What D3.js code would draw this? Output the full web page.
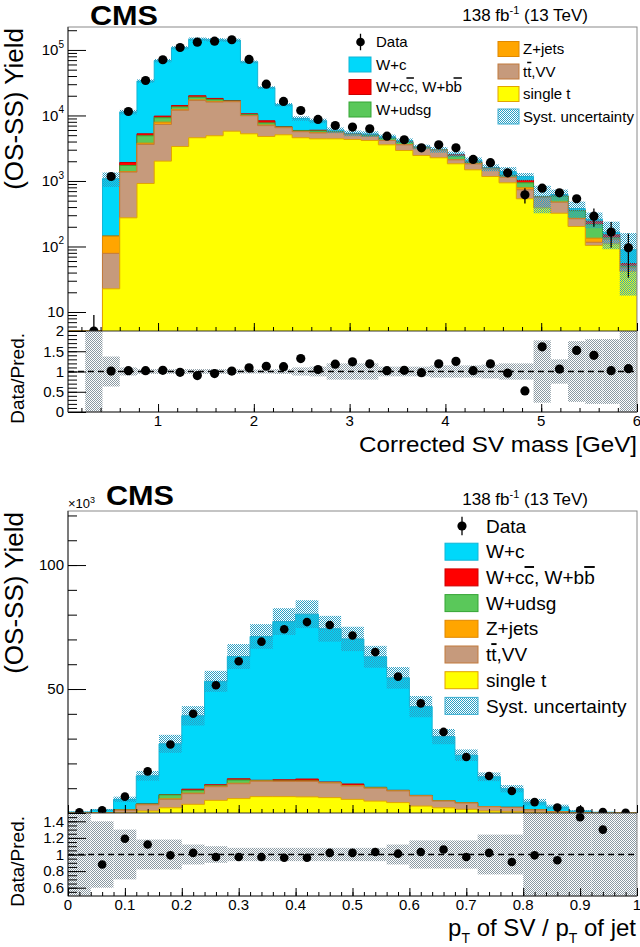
<!DOCTYPE html>
<html><head><meta charset="utf-8">
<script src="https://cdn.jsdelivr.net/npm/d3@7/dist/d3.min.js"></script>
<style>
html,body{margin:0;padding:0;background:#fff;}
svg text{font-family:"Liberation Sans",Arial,Helvetica,sans-serif;fill:#000;}
</style></head><body>
<svg id="chart" width="640" height="947"></svg>
<script>
// ---------------- DATA: corrected SV mass (top) ----------------
const massBinWidth = 0.18;
const massBinLow = d3.range(33).map(i => +(0.06 + i * massBinWidth).toFixed(2));
const massSingleT = [0,0,22.6,274,916,2010,3360,4570,4900,5760,5250,4780,5070,4570,4400,4400,4300,4150,3560,2920,2450,2260,1830,1480,1170,937,535,389,322,202,104,110,42];
const massTTVV    = [0,0,56,1091,2694,5290,8640,12330,11100,10440,4650,2220,1430,1080,1000,1100,750,640,590,640,700,690,270,340,360,203,200,170,152,63,12,18,5];
const massZjets   = [0,0,65,25,170,600,400,400,400,100,100,150,50,50,50,30,20,10,20,20,20,10,20,10,10,10,52,5,2,5,18,2,1];
const massWudsg   = [0,0,0,336,1120,1330,1100,1700,1000,300,300,550,100,150,350,120,80,150,280,320,50,20,280,70,20,50,150,5,110,80,83,5,2];
const massWccbb   = [0,0,0,189,350,540,700,1000,800,200,300,600,50,50,150,50,50,50,50,50,60,10,120,50,10,20,83,5,4,5,26,16,5];
const massWc      = [0,0,936,9355,28250,58930,93800,126000,124800,124200,55100,18300,7900,3100,2330,260,150,220,230,180,30,10,50,130,30,170,150,10,30,25,17,14,34];
const massData    = [null,3,1170,11500,34200,70800,109000,131500,136000,143000,71600,30000,16400,11900,8690,7030,6640,6270,4830,4260,3210,3560,3210,2130,1900,1330,615,776,660,535,290,166,95.5];
const massDataErr = [0,6,40,110,190,270,330,370,370,380,270,175,130,110,95,85,80,80,70,65,60,60,60,50,50,45,160,60,60,70,90,70,62];
const massSystRel = [0,0,0.25,0.08,0.06,0.06,0.06,0.06,0.06,0.06,0.05,0.05,0.06,0.08,0.08,0.1,0.1,0.1,0.08,0.08,0.08,0.1,0.1,0.1,0.12,0.17,0.13,0.45,0.19,0.28,0.27,0.45,0.8];
const massRatio   = [null,null,1.01,1.02,1.02,1.03,0.98,0.90,0.95,1.01,1.09,1.13,1.12,1.32,1.05,1.18,1.24,1.19,1.02,1.03,0.97,1.19,1.25,1.02,1.19,0.96,0.52,1.61,1.06,1.52,1.40,1.02,1.07];
const massRatioBand = [0,1.2,0.37,0.1,0.06,0.06,0.06,0.06,0.06,0.06,0.05,0.05,0.06,0.1,0.12,0.2,0.2,0.2,0.12,0.12,0.12,0.15,0.15,0.15,0.17,0.2,0.2,0.77,0.3,0.75,0.8,0.8,1.0];
const massXLabels = [1,2,3,4,5,6];
const massYLabels = [[10,"10",""],[100,"10","2"],[1000,"10","3"],[10000,"10","4"],[100000,"10","5"]];
const massRatioLabels = [[0,"0"],[0.5,"0.5"],[1,"1"],[1.5,"1.5"],[2,"2"]];

// ---------------- DATA: pT(SV)/pT(jet) (bottom) ----------------
const ptBinWidth = 0.04;
const ptBinLow = d3.range(25).map(i => +(i * ptBinWidth).toFixed(2));
const ptSingleT = [0,0.05,0.1,0.8,2.1,3.5,5.1,5.8,6.6,6.6,6.5,6.2,5.5,4.8,4.2,2.8,2.1,1.5,0.8,0.5,0.3,0.1,0.05,0.02,0.01];
const ptTTVV    = [0.05,0.1,1.0,2.5,3.4,4.3,5.5,6.0,6.2,6.1,6.2,5.9,5.4,5.2,4.7,4.1,2.7,2.5,1.7,1.7,0.9,0.4,0.15,0.05,0.02];
const ptZjets   = [0,0,0.05,0.1,0.2,0.2,0.2,0.2,0.1,0.1,0.1,0.1,0.1,0.05,0.05,0.05,0.05,0.05,0.03,0.03,0.02,0.01,0,0,0];
const ptWudsg   = [0,0,0.1,0.2,1.6,1.1,0.2,1.3,0.1,0.1,0.1,0.1,0.1,0.2,0.1,0.1,0.1,0.05,0.05,0.05,0.03,0.02,0.01,0,0];
const ptWccbb   = [0,0,0,0.05,0.1,0.5,0.4,0.5,0.2,0.5,0.8,0.2,0.6,0.1,0.1,0.05,0.05,0.05,0.02,0.02,0.02,0.01,0,0,0];
const ptWc      = [0.35,1.1,4.25,11.35,20.5,29.6,41.7,49.3,58.0,63.8,66.5,61.8,58.5,52.65,45.35,35.8,25.8,19.15,12.0,7.5,3.1,1.86,0.6,0.23,0.07];
const ptData    = [0.3,1.1,6.6,16.8,27.6,40.0,51.5,61.2,69.1,74.1,77.0,75.8,71.6,64.9,55.0,44.2,32.7,22.6,14.9,8.9,4.4,2.2,1.1,0.4,0.1];
const ptDataErr = [0.2,0.3,0.4,0.5,0.6,0.7,0.7,0.8,0.8,0.8,0.8,0.8,0.8,0.8,0.7,0.7,0.6,0.5,0.5,0.4,0.3,0.3,0.2,0.2,0.1];
const ptSystRel = [0.5,0.3,0.2,0.13,0.13,0.1,0.08,0.08,0.07,0.07,0.07,0.07,0.07,0.07,0.08,0.1,0.1,0.1,0.12,0.15,0.3,0.4,0.5,0.5,0.5];
const ptRatio   = [null,0.88,1.19,1.12,0.99,1.02,0.97,0.97,0.97,0.96,0.96,1.02,1.02,1.03,1.01,1.03,1.06,0.97,1.02,0.91,0.99,0.93,1.45,1.30,null];
const ptRatioBand = [0.6,0.4,0.3,0.18,0.18,0.12,0.1,0.08,0.08,0.08,0.08,0.08,0.08,0.08,0.12,0.17,0.17,0.17,0.24,0.24,0.6,0.6,0.6,0.6,0.6];
const ptXLabels = [[0,"0"],[0.1,"0.1"],[0.2,"0.2"],[0.3,"0.3"],[0.4,"0.4"],[0.5,"0.5"],[0.6,"0.6"],[0.7,"0.7"],[0.8,"0.8"],[0.9,"0.9"],[1,"1"]];
const ptYLabels = [[50,"50"],[100,"100"]];
const ptRatioLabels = [[0.6,"0.6"],[0.8,"0.8"],[1,"1"],[1.2,"1.2"],[1.4,"1.4"]];

// ---------------- legend / styles ----------------
const compFill = ["#ffff00","#c69a7c","#ffa500","#5ac85a","#ff0000","#00d8fa"];
const compLine = ["#e2a400","#c27a3c","#e08800","#35a535","#cc0000","#12b6d6"];
const legendParts = {
  data: [["Data"]],
  wc: [["W+c"]],
  wcc: [["W+c"],["c","over"],[", W+b"],["b","over"]],
  wudsg: [["W+udsg"]],
  z: [["Z+jets"]],
  tt: [["t"],["t","over"],[",VV"]],
  st: [["single t"]],
  syst: [["Syst. uncertainty"]]
};

const svg = d3.select("#chart");
const defs = svg.append("defs");
function makePattern(id, color) {
  const p = defs.append("pattern").attr("id", id).attr("width", 2).attr("height", 2).attr("patternUnits", "userSpaceOnUse");
  p.append("rect").attr("x", 0).attr("y", 0).attr("width", 1).attr("height", 1).attr("fill", color);
  p.append("rect").attr("x", 1).attr("y", 1).attr("width", 1).attr("height", 1).attr("fill", color);
}
makePattern("systMain", "#2a9fc4");
makePattern("systRatio", "#8a99a2");

function richText(sel, parts) {
  parts.forEach(p => {
    const t = sel.append("tspan").text(p[0]);
    if (p[1] === "over") t.style("text-decoration", "overline");
  });
}

function cumulative(comps) {
  const out = []; let acc = comps[0].map(() => 0);
  comps.forEach(c => { acc = acc.map((a, i) => a + c[i]); out.push(acc.slice()); });
  return out;
}

function panel(o) {
  const x = d3.scaleLinear().domain(o.xDomain).range([o.x0, o.x1]);
  const y = (o.log ? d3.scaleLog() : d3.scaleLinear()).domain(o.yDomain).range([o.mid, o.top]).clamp(true);
  const ys = v => y(Math.max(v, o.yDomain[0]));
  const yr = d3.scaleLinear().domain(o.rDomain).range([o.bot, o.mid]).clamp(true);
  const cM = o.id + "M", cR = o.id + "R";
  defs.append("clipPath").attr("id", cM).append("rect").attr("x", o.x0).attr("y", o.top).attr("width", o.x1 - o.x0).attr("height", o.mid - o.top);
  defs.append("clipPath").attr("id", cR).append("rect").attr("x", o.x0).attr("y", o.mid).attr("width", o.x1 - o.x0).attr("height", o.bot - o.mid);
  const hi = l => l + o.w;
  const cum = cumulative(o.comps);
  const total = cum[cum.length - 1];
  const gm = svg.append("g").attr("clip-path", `url(#${cM})`);
  for (let k = cum.length - 1; k >= 0; k--) {
    const pts = [[x(o.lows[0]), o.mid]];
    cum[k].forEach((v, i) => { pts.push([x(o.lows[i]), ys(v)]); pts.push([x(hi(o.lows[i])), ys(v)]); });
    pts.push([x(hi(o.lows[o.lows.length - 1])), o.mid]);
    gm.append("path").attr("d", d3.line()(pts) + "Z").attr("fill", compFill[k]);
    gm.append("path").attr("d", d3.line()(pts)).attr("fill", "none").attr("stroke", compLine[k]).attr("stroke-width", 1);
  }
  gm.selectAll(null).data(o.lows.map((l, i) => ({l, t: total[i], r: o.syst[i]})).filter(d => d.t > 0 && d.r > 0))
    .join("rect")
    .attr("x", d => x(d.l)).attr("width", d => x(hi(d.l)) - x(d.l))
    .attr("y", d => ys(d.t * (1 + d.r))).attr("height", d => ys(d.t * Math.max(1 - d.r, 1e-6)) - ys(d.t * (1 + d.r)))
    .attr("fill", "url(#systMain)");
  const dd = o.lows.map((l, i) => ({c: l + o.w / 2, v: o.data[i], e: o.err[i]})).filter(d => d.v != null);
  gm.selectAll(null).data(dd).join("line")
    .attr("x1", d => x(d.c)).attr("x2", d => x(d.c))
    .attr("y1", d => ys(d.v - d.e)).attr("y2", d => ys(d.v + d.e))
    .attr("stroke", "#000").attr("stroke-width", 1.3);
  gm.selectAll(null).data(dd).join("circle")
    .attr("cx", d => x(d.c)).attr("cy", d => ys(d.v)).attr("r", o.r).attr("fill", "#000");

  const gr = svg.append("g").attr("clip-path", `url(#${cR})`);
  gr.selectAll(null).data(o.lows.map((l, i) => ({l, r: o.rband[i]})).filter(d => d.r > 0)).join("rect")
    .attr("x", d => x(d.l)).attr("width", d => x(hi(d.l)) - x(d.l))
    .attr("y", d => yr(1 + d.r)).attr("height", d => yr(1 - d.r) - yr(1 + d.r))
    .attr("fill", "url(#systRatio)");
  gr.append("line").attr("x1", o.x0).attr("x2", o.x1).attr("y1", yr(1)).attr("y2", yr(1))
    .attr("stroke", "#000").attr("stroke-width", 1.5).attr("stroke-dasharray", "6,4");
  gr.selectAll(null).data(o.lows.map((l, i) => ({c: l + o.w / 2, v: o.ratio[i]})).filter(d => d.v != null)).join("circle")
    .attr("cx", d => x(d.c)).attr("cy", d => yr(d.v)).attr("r", o.r).attr("fill", "#000");

  svg.append("rect").attr("x", o.x0).attr("y", o.top).attr("width", o.x1 - o.x0).attr("height", o.bot - o.top)
    .attr("fill", "none").attr("stroke", "#8a8a8a").attr("stroke-width", 1);
  svg.append("line").attr("x1", o.x0).attr("x2", o.x1).attr("y1", o.mid).attr("y2", o.mid).attr("stroke", "#333");
  svg.append("line").attr("x1", o.x0).attr("x2", o.x1).attr("y1", o.bot).attr("y2", o.bot).attr("stroke", "#333");
  svg.append("line").attr("x1", o.x0).attr("x2", o.x0).attr("y1", o.top).attr("y2", o.bot).attr("stroke", "#333");

  const tick = (g) => { g.select(".domain").remove(); g.selectAll("line").attr("stroke", "#000"); };
  const ax = (gen, tx, ty) => svg.append("g").attr("transform", `translate(${tx},${ty})`).call(gen).call(tick);
  ax(d3.axisLeft(y).tickValues(o.yMajor).tickSize(-18).tickFormat(""), o.x0, 0);
  ax(d3.axisLeft(y).tickValues(o.yMinor).tickSize(-9).tickFormat(""), o.x0, 0);
  ax(d3.axisLeft(yr).tickValues(o.rMajor).tickSize(-18).tickFormat(""), o.x0, 0);
  ax(d3.axisLeft(yr).tickValues(o.rMinor).tickSize(-9).tickFormat(""), o.x0, 0);
  ax(d3.axisBottom(x).tickValues(o.xMajor).tickSize(-8).tickFormat(""), 0, o.mid);
  ax(d3.axisBottom(x).tickValues(o.xMinor).tickSize(-4).tickFormat(""), 0, o.mid);
  ax(d3.axisBottom(x).tickValues(o.xMajor).tickSize(-8).tickFormat(""), 0, o.bot);
  ax(d3.axisBottom(x).tickValues(o.xMinor).tickSize(-4).tickFormat(""), 0, o.bot);

  const lab = svg.append("g").attr("font-size", 15);
  o.yLabels.forEach(d => {
    const t = lab.append("text").attr("x", o.x0 - 4).attr("y", y(d[0])).attr("dy", "0.35em").attr("text-anchor", "end");
    t.append("tspan").text(d[1]);
    if (d[2]) t.append("tspan").attr("font-size", 10).attr("dy", "-0.75em").text(d[2]);
  });
  o.rLabels.forEach(d => lab.append("text").attr("x", o.x0 - 4).attr("y", yr(d[0])).attr("dy", "0.35em").attr("text-anchor", "end").text(d[1]));
  o.xLabels.forEach(d => lab.append("text").attr("x", x(d[0])).attr("y", o.bot + 14).attr("text-anchor", "middle").text(d[1]));
  return {x, y, yr};
}

// ---------------- TOP PANEL ----------------
const massMinor = [];
[1, 10, 100, 1000, 10000, 100000].forEach(d => d3.range(2, 10).forEach(m => { const v = m * d; if (v > 5.13 && v < 2.24e5) massMinor.push(v); }));
panel({
  id: "mass", x0: 68, x1: 637, top: 27, mid: 331, bot: 412,
  xDomain: [0.06, 6], yDomain: [5.13, 2.24e5], rDomain: [0, 2], log: true,
  lows: massBinLow, w: massBinWidth,
  comps: [massSingleT, massTTVV, massZjets, massWudsg, massWccbb, massWc],
  data: massData, err: massDataErr, syst: massSystRel, ratio: massRatio, rband: massRatioBand, r: 4.6,
  yMajor: massYLabels.map(d => d[0]), yMinor: massMinor,
  rMajor: massRatioLabels.map(d => d[0]), rMinor: d3.range(0.1, 2, 0.1),
  xMajor: massXLabels, xMinor: d3.range(0.2, 6, 0.2),
  yLabels: massYLabels, rLabels: massRatioLabels, xLabels: massXLabels.map(v => [v, String(v)])
});

// ---------------- BOTTOM PANEL ----------------
panel({
  id: "pt", x0: 68, x1: 637, top: 511, mid: 813, bot: 896,
  xDomain: [0, 1], yDomain: [0, 121.8], rDomain: [0.5, 1.5], log: false,
  lows: ptBinLow, w: ptBinWidth,
  comps: [ptSingleT, ptTTVV, ptZjets, ptWudsg, ptWccbb, ptWc],
  data: ptData, err: ptDataErr, syst: ptSystRel, ratio: ptRatio, rband: ptRatioBand, r: 4.3,
  yMajor: [0, 50, 100], yMinor: d3.range(10, 121, 10),
  rMajor: ptRatioLabels.map(d => d[0]), rMinor: d3.range(0.55, 1.5, 0.05),
  xMajor: ptXLabels.map(d => d[0]), xMinor: d3.range(0.02, 1, 0.02),
  yLabels: ptYLabels, rLabels: ptRatioLabels, xLabels: ptXLabels
});

// ---------------- titles ----------------
function cmsLabel(x, y) {
  svg.append("text").attr("x", x).attr("y", y).attr("font-size", 27).attr("font-weight", "bold")
    .attr("textLength", 68).attr("lengthAdjust", "spacingAndGlyphs").text("CMS");
}
function lumi(xEnd, y) {
  const t = svg.append("text").attr("x", xEnd).attr("y", y).attr("font-size", 17).attr("text-anchor", "end");
  t.append("tspan").text("138 fb");
  t.append("tspan").attr("font-size", 11).attr("dy", -7).text("-1");
  t.append("tspan").attr("dy", 7).text(" (13 TeV)");
}
cmsLabel(90, 25); lumi(588, 21);
cmsLabel(106, 505); lumi(588, 505);
const x3 = svg.append("text").attr("x", 68).attr("y", 508).attr("font-size", 13);
x3.append("tspan").text("\u00d710");
x3.append("tspan").attr("font-size", 9).attr("dy", -5).text("3");

function yTitle(x, yTop, txt, size) {
  svg.append("text").attr("transform", `translate(${x},${yTop}) rotate(-90)`).attr("text-anchor", "end")
    .attr("font-size", size).text(txt);
}
yTitle(23, 28, "(OS-SS) Yield", 26);
yTitle(24, 333, "Data/Pred.", 19);
yTitle(23, 512, "(OS-SS) Yield", 26);
yTitle(24, 816, "Data/Pred.", 19);

svg.append("text").attr("x", 637).attr("y", 452).attr("font-size", 22).attr("text-anchor", "end")
  .attr("textLength", 278).attr("lengthAdjust", "spacingAndGlyphs").text("Corrected SV mass [GeV]");
const xt = svg.append("text").attr("x", 636).attr("y", 936).attr("font-size", 24).attr("text-anchor", "end");
xt.append("tspan").text("p");
xt.append("tspan").attr("font-size", 14).attr("dy", 7).text("T");
xt.append("tspan").attr("dy", -7).text(" of SV / p");
xt.append("tspan").attr("font-size", 14).attr("dy", 7).text("T");
xt.append("tspan").attr("dy", -7).text(" of jet");

// ---------------- legends ----------------
function legend(entries, o) {
  const g = svg.append("g");
  entries.forEach(e => {
    if (e.type === "data") {
      g.append("line").attr("x1", o.mx).attr("x2", o.mx).attr("y1", e.y - o.bh * 0.55).attr("y2", e.y + o.bh * 0.55).attr("stroke", "#000").attr("stroke-width", 1.3);
      g.append("circle").attr("cx", o.mx).attr("cy", e.y).attr("r", o.r).attr("fill", "#000");
    } else {
      g.append("rect").attr("x", o.bx).attr("y", e.y - o.bh / 2).attr("width", o.bw).attr("height", o.bh)
        .attr("fill", e.fill).attr("stroke", e.line).attr("stroke-width", 1);
    }
    const t = g.append("text").attr("x", o.tx).attr("y", e.y).attr("dy", "0.35em").attr("font-size", o.fs);
    richText(t, e.parts);
  });
}
const E = (type, parts, k, y) => ({type, parts, y, fill: k === "s" ? "url(#systMain)" : compFill[k], line: k === "s" ? "#3aaed0" : compLine[k]});
legend([E("data", legendParts.data, 0, 42), E("box", legendParts.wc, 5, 64.5), E("box", legendParts.wcc, 4, 87), E("box", legendParts.wudsg, 3, 109.5)],
  {mx: 360.5, bx: 349, bw: 22, bh: 15, tx: 376, fs: 15, r: 4.3});
legend([E("box", legendParts.z, 2, 49), E("box", legendParts.tt, 1, 71.5), E("box", legendParts.st, 0, 94), E("box", legendParts.syst, "s", 116.5)],
  {mx: 509, bx: 498, bw: 21, bh: 15, tx: 523, fs: 15, r: 4.3});
legend([E("data", legendParts.data, 0, 526), E("box", legendParts.wc, 5, 551.7), E("box", legendParts.wcc, 4, 577.4), E("box", legendParts.wudsg, 3, 603.1),
        E("box", legendParts.z, 2, 628.8), E("box", legendParts.tt, 1, 654.5), E("box", legendParts.st, 0, 680.2), E("box", legendParts.syst, "s", 705.9)],
  {mx: 462, bx: 445, bw: 33, bh: 17, tx: 486, fs: 19, r: 4.6});
</script>
</body></html>
